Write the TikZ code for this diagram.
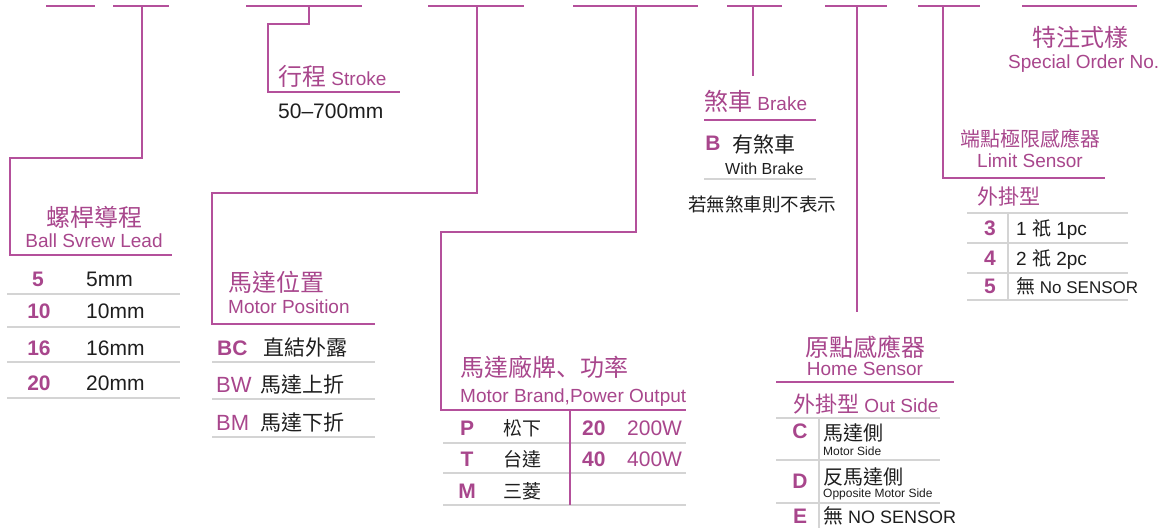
\documentclass[tikz,border=0pt]{standalone}
\usepackage{fontspec}
\setmainfont{Liberation Sans}
\newfontfamily\zh{Noto Sans CJK TC}
\newfontfamily\zhjp{Noto Sans CJK JP}
\newcommand\cn[2][24]{{\zh\fontsize{#1}{#1}\selectfont #2}}
\definecolor{mag}{RGB}{180,80,155}
\definecolor{magtext}{RGB}{168,70,140}
\definecolor{rule}{RGB}{212,212,212}
\definecolor{ink}{RGB}{30,30,30}

\begin{document}
\begin{tikzpicture}[x=1pt,y=-1pt,
	mline/.style={mag, line width=2pt},
	gline/.style={rule, line width=1.4pt},
	tit/.style={inner sep=0pt, anchor=base west, text=magtext, font=\fontsize{19}{19}\selectfont},
	key/.style={inner sep=0pt, anchor=base, text=magtext, font=\bfseries\fontsize{21}{21}\selectfont},
	keyr/.style={inner sep=0pt, anchor=base west, text=magtext, font=\fontsize{21}{21}\selectfont},
	val/.style={inner sep=0pt, anchor=base west, text=ink, font=\fontsize{21}{21}\selectfont},
	small/.style={inner sep=0pt, anchor=base west, text=ink, font=\fontsize{12}{12}\selectfont}]
	\useasboundingbox (0,0) rectangle (1161,528);
	% code segments along the top
	\draw[mline] (46,6) -- (95,6);
	\draw[mline] (113,6) -- (169,6);
	\draw[mline] (246,6) -- (362,6);
	\draw[mline] (428,6) -- (524,6);
	\draw[mline] (573,6) -- (698,6);
	\draw[mline] (727,6) -- (782,6);
	\draw[mline] (825,6) -- (887,6);
	\draw[mline] (918,6) -- (980,6);
	\draw[mline] (1022,6) -- (1137,6);

	% ball screw lead
	\coordinate (drop2) at (142,6);
	\coordinate (bend2) at (10,158);
	\coordinate (end2) at (172,255);
	\draw[mline] (drop2) |- (bend2) |- (end2);
	\node[tit, anchor=base] (lead) at (94,226) {\cn{螺桿導程}};
	\node[tit, anchor=base] (leaden) at (94,247) {Ball Svrew Lead};
	\node[key] (lead5) at (38,286) {5};
	\node[val] (leadv5) at (86,286) {5mm};
	\draw[gline] (7,294) -- (180,294);
	\node[key] (lead10) at (39,318) {10};
	\node[val] (leadv10) at (86,318) {10mm};
	\draw[gline] (7,327) -- (180,327);
	\node[key] (lead16) at (39,355) {16};
	\node[val] (leadv16) at (86,355) {16mm};
	\draw[gline] (7,362) -- (180,362);
	\node[key] (lead20) at (39,390) {20};
	\node[val] (leadv20) at (86,390) {20mm};
	\draw[gline] (7,398) -- (180,398);

	% stroke
	\coordinate (drop3) at (309,6);
	\coordinate (bend3) at (268,24);
	\coordinate (end3) at (400,92);
	\draw[mline] (drop3) |- (bend3) |- (end3);
	\node[tit] (stroke) at (278,85) {\cn{行程} Stroke};
	\node[val] (strokev) at (278,118) {50--700mm};

	% motor position
	\coordinate (drop4) at (477,6);
	\coordinate (bend4) at (212,193);
	\coordinate (end4) at (375,324);
	\draw[mline] (drop4) |- (bend4) |- (end4);
	\node[tit] (pos) at (228,291) {\cn{馬達位置}};
	\node[tit] (posen) at (228,313) {Motor Position};
	\node[key, anchor=base west] (posBC) at (217,355) {BC};
	\node[val] (posvBC) at (263,355) {\cn[21]{直結外露}};
	\draw[gline] (212,362) -- (375,362);
	\node[keyr, font=\fontsize{22}{22}\selectfont] (posBW) at (216,392) {BW};
	\node[val] (posvBW) at (260,392) {\cn[21]{馬達上折}};
	\draw[gline] (212,399) -- (375,399);
	\node[keyr, font=\fontsize{22}{22}\selectfont] (posBM) at (216,430) {BM};
	\node[val] (posvBM) at (260,430) {\cn[21]{馬達下折}};
	\draw[gline] (212,437) -- (375,437);

	% motor brand, power output
	\coordinate (drop5) at (636,6);
	\coordinate (bend5) at (441,232);
	\coordinate (end5) at (686,410);
	\draw[mline] (drop5) |- (bend5) |- (end5);
	\node[tit] (brand) at (460,376) {\cn{馬達廠牌{\zhjp 、}功率}};
	\node[tit] (branden) at (460,402) {Motor Brand,Power Output};
	\node[key] (brandP) at (467,435) {P};
	\node[val] (brandvP) at (503,435) {\cn[19]{松下}};
	\draw[gline] (443,443) -- (686,443);
	\node[key] (brandT) at (467,466) {T};
	\node[val] (brandvT) at (503,466) {\cn[19]{台達}};
	\draw[gline] (443,473) -- (686,473);
	\node[key] (brandM) at (467,498) {M};
	\node[val] (brandvM) at (503,498) {\cn[19]{三菱}};
	\draw[gline] (443,505) -- (686,505);
	\node[key, anchor=base west] (pow20) at (582,435) {20};
	\node[keyr] (powv20) at (627,435) {200W};
	\node[key, anchor=base west] (pow40) at (582,466) {40};
	\node[keyr] (powv40) at (627,466) {400W};
	\draw[mline] (570,410) -- (570,505);

	% brake
	\coordinate (drop6) at (753,6);
	\coordinate (end6) at (753,76);
	\draw[mline] (drop6) -- (end6);
	\node[tit] (brake) at (704,110) {\cn{煞車} Brake};
	\draw[mline] (704,120) -- (816,120);
	\node[key] (brakeB) at (713,150) {B};
	\node[val] (brakevB) at (732,152) {\cn[21]{有煞車}};
	\node[small, font=\fontsize{16}{16}\selectfont] (brakeen) at (725,174) {With Brake};
	\draw[gline] (704,179) -- (816,179);
	\node[val] (brakeno) at (688,211) {\cn[18.5]{若無煞車則不表示}};

	% home sensor
	\coordinate (drop7) at (857,6);
	\coordinate (end7) at (857,312);
	\draw[mline] (drop7) -- (end7);
	\node[tit, anchor=base] (home) at (865,356) {\cn{原點感應器}};
	\node[tit, anchor=base] (homeen) at (865,375) {Home Sensor};
	\draw[mline] (776,382) -- (954,382);
	\node[tit] (homeout) at (793,412) {\cn[22]{外掛型} Out Side};
	\draw[gline] (776,418) -- (940,418);
	\node[key] (homeC) at (800,438) {C};
	\node[val] (homevC) at (823,440) {\cn[20]{馬達側}};
	\node[small] (homeeC) at (823,455) {Motor Side};
	\draw[gline] (776,460) -- (940,460);
	\node[key] (homeD) at (800,488) {D};
	\node[val] (homevD) at (823,484) {\cn[20]{反馬達側}};
	\node[small] (homeeD) at (823,497) {Opposite Motor Side};
	\draw[gline] (776,503) -- (940,503);
	\node[key] (homeE) at (800,523) {E};
	\node[val, font=\fontsize{18}{18}\selectfont] (homevE) at (823,523) {\cn[20]{無} NO SENSOR};
	\draw[gline] (819,418) -- (819,528);

	% limit sensor
	\coordinate (drop8) at (943,6);
	\coordinate (end8) at (1105,178);
	\draw[mline] (drop8) |- (end8);
	\node[tit] (limit) at (960,146) {\cn[20]{端點極限感應器}};
	\node[tit] (limiten) at (977,167) {Limit Sensor};
	\node[tit] (limitout) at (977,204) {\cn[21]{外掛型}};
	\draw[gline] (967,213) -- (1128,213);
	\node[key] (limit3) at (990,235) {3};
	\node[val, font=\fontsize{19}{19}\selectfont] (limitv3) at (1016,235) {1 \cn[19]{祇} 1pc};
	\draw[gline] (967,243) -- (1128,243);
	\node[key] (limit4) at (990,265) {4};
	\node[val, font=\fontsize{19}{19}\selectfont] (limitv4) at (1016,265) {2 \cn[19]{祇} 2pc};
	\draw[gline] (967,273) -- (1128,273);
	\node[key] (limit5) at (990,293) {5};
	\node[val, font=\fontsize{17}{17}\selectfont] (limitv5) at (1016,293) {\cn[19]{無} No SENSOR};
	\draw[gline] (967,300) -- (1128,300);
	\draw[gline] (1008,213) -- (1008,300);

	% special order
	\node[tit, anchor=base] (special) at (1080,46) {\cn{特注式樣}};
	\node[tit] (specialen) at (1008,68) {Special Order No.};
\end{tikzpicture}
\end{document}
